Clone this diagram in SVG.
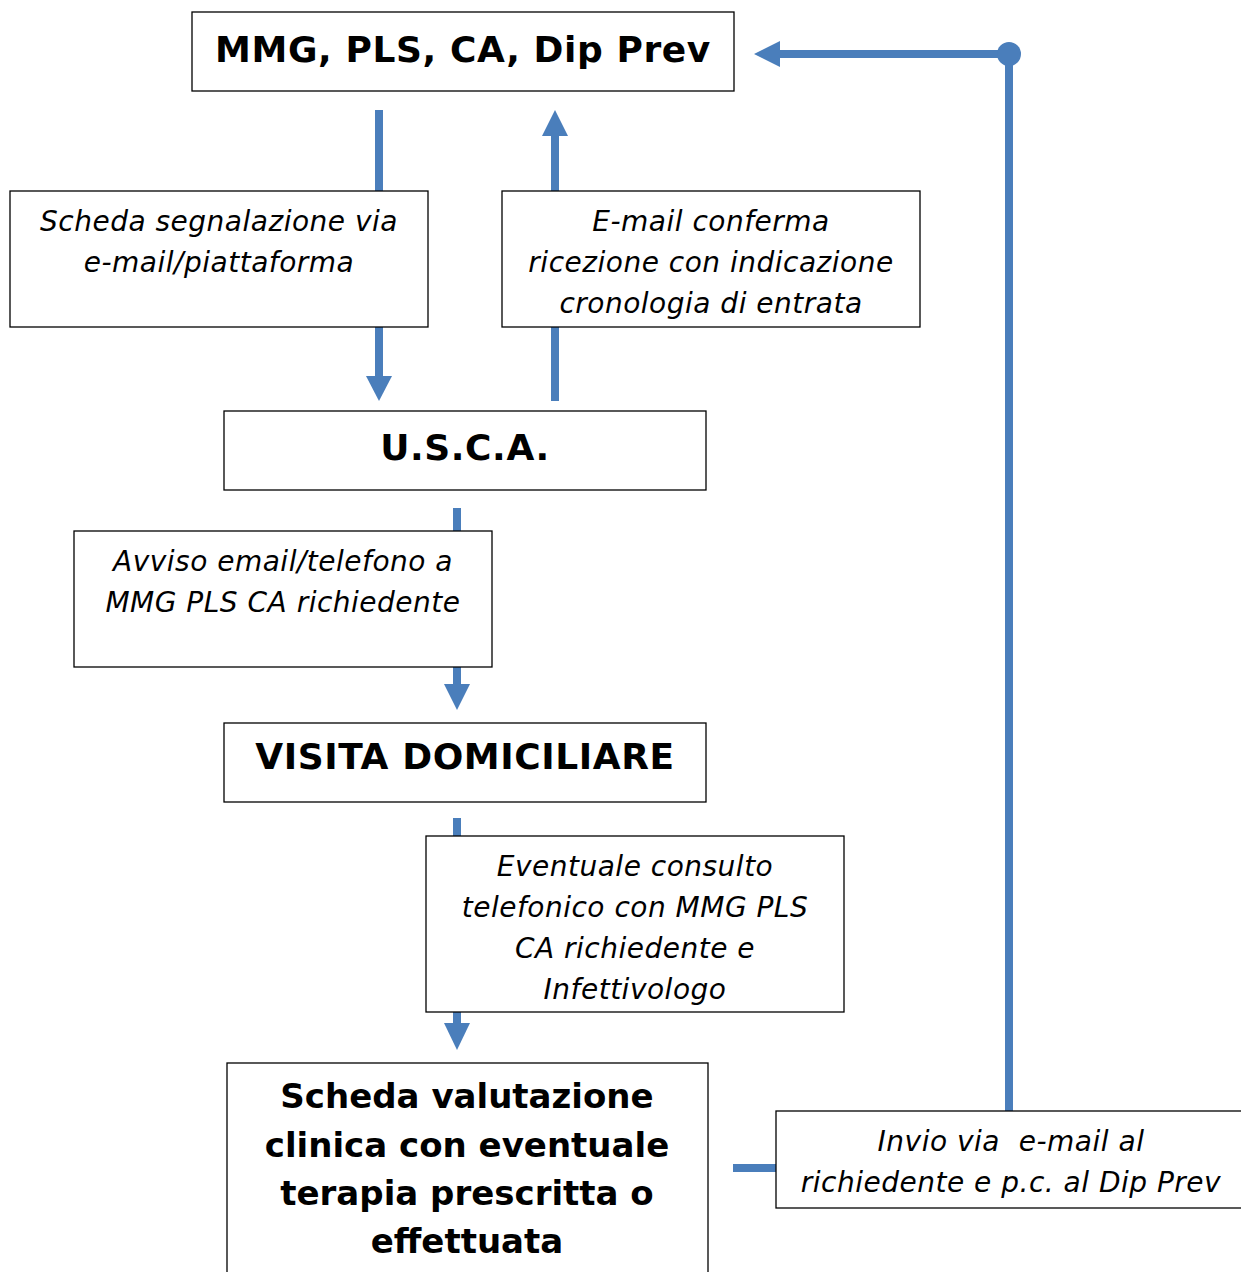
<svg xmlns="http://www.w3.org/2000/svg" width="1241" height="1272" viewBox="0 0 1241 1272">
<style>
.box{fill:#fff;stroke:#000;stroke-width:1.3}
.b{font-family:"DejaVu Sans","Verdana",sans-serif;font-weight:bold;font-size:34px;text-anchor:middle;fill:#000}
.bt{font-size:36px;letter-spacing:0.6px}
.i{font-family:"DejaVu Sans","Verdana",sans-serif;font-style:italic;font-size:28px;letter-spacing:0.5px;text-anchor:middle;fill:#000}
.ln{stroke:#4a7ebb;stroke-width:8;fill:none}
.hd{fill:#4a7ebb}
</style>
<rect width="1241" height="1272" fill="#fff"/>
<g id="connectors">
<line class="ln" x1="379" y1="110" x2="379" y2="378"/>
<polygon class="hd" points="366,376 392,376 379,401"/>
<line class="ln" x1="555" y1="401" x2="555" y2="132"/>
<polygon class="hd" points="542,136 568,136 555,110"/>
<line class="ln" x1="457" y1="508" x2="457" y2="686"/>
<polygon class="hd" points="444,684 470,684 457,710"/>
<line class="ln" x1="457" y1="818" x2="457" y2="1026"/>
<polygon class="hd" points="444,1023 470,1023 457,1050"/>
<line class="ln" x1="733" y1="1168" x2="780" y2="1168"/>
<polyline class="ln" points="1009,1112 1009,54 776,54"/>
<circle class="hd" cx="1009" cy="54" r="12"/>
<polygon class="hd" points="780,41 780,67 754,54"/>
</g>
<g id="n1"><rect class="box" x="192" y="12" width="542" height="79"/><text class="b bt" x="463" y="62">MMG, PLS, CA, Dip Prev</text></g>
<g id="l1"><rect class="box" x="10" y="191" width="418" height="136"/><text class="i" x="219" y="231">Scheda segnalazione via</text><text class="i" x="219" y="272">e-mail/piattaforma</text></g>
<g id="l2"><rect class="box" x="502" y="191" width="418" height="136"/><text class="i" x="711" y="231">E-mail conferma</text><text class="i" x="711" y="272">ricezione con indicazione</text><text class="i" x="711" y="313">cronologia di entrata</text></g>
<g id="n2"><rect class="box" x="224" y="411" width="482" height="79"/><text class="b bt" x="465" y="460">U.S.C.A.</text></g>
<g id="l3"><rect class="box" x="74" y="531" width="418" height="136"/><text class="i" x="283" y="571">Avviso email/telefono a</text><text class="i" x="283" y="612">MMG PLS CA richiedente</text></g>
<g id="n3"><rect class="box" x="224" y="723" width="482" height="79"/><text class="b bt" x="465" y="769">VISITA DOMICILIARE</text></g>
<g id="l4"><rect class="box" x="426" y="836" width="418" height="176"/><text class="i" x="635" y="876">Eventuale consulto</text><text class="i" x="635" y="917">telefonico con MMG PLS</text><text class="i" x="635" y="958">CA richiedente e</text><text class="i" x="635" y="999">Infettivologo</text></g>
<g id="n4"><rect class="box" x="227" y="1063" width="481" height="230"/><text class="b" x="467" y="1108">Scheda valutazione</text><text class="b" x="467" y="1157">clinica con eventuale</text><text class="b" x="467" y="1205">terapia prescritta o</text><text class="b" x="467" y="1253">effettuata</text></g>
<g id="l5"><rect class="box" x="776" y="1111" width="480" height="97"/><text class="i" x="1011" y="1151" xml:space="preserve">Invio via  e-mail al</text><text class="i" x="1011" y="1192">richiedente e p.c. al Dip Prev</text></g>
</svg>
